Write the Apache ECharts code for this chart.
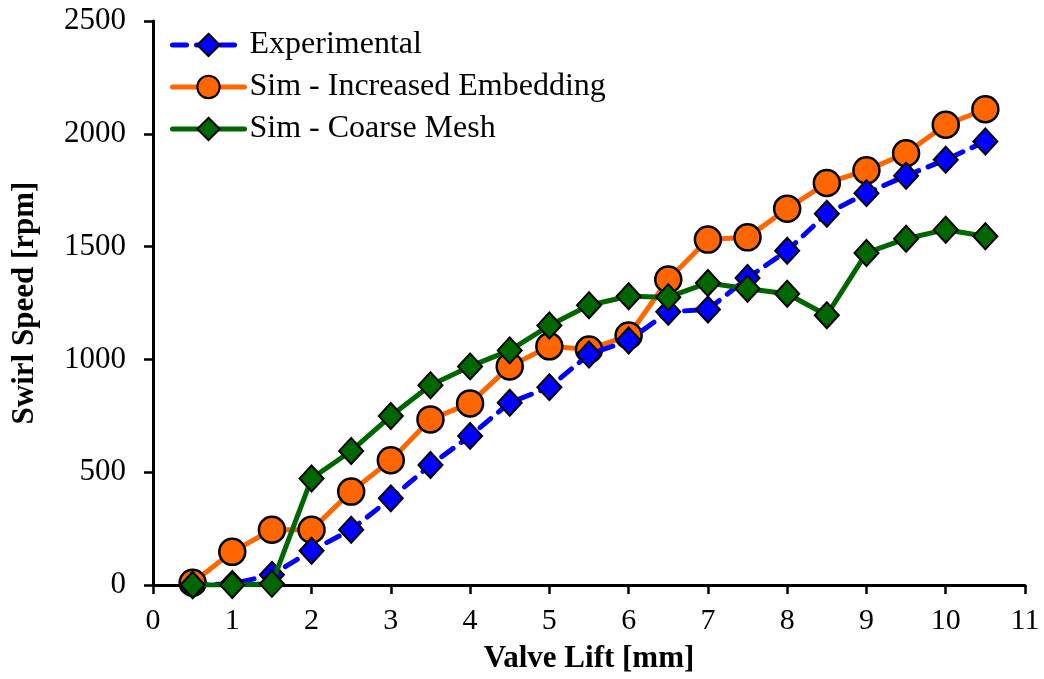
<!DOCTYPE html>
<html><head><meta charset="utf-8">
<script src="https://cdn.jsdelivr.net/npm/echarts@6/dist/echarts.min.js"></script>
<style>html,body{margin:0;padding:0;background:#fff}#c{width:1044px;height:679px}</style>
</head><body><div id="c"></div>
<script>
const valveLift = [0.5,1,1.5,2,2.5,3,3.5,4,4.5,5,5.5,6,6.5,7,7.5,8,8.5,9,9.5,10,10.5];
const experimental = [0,5,45,152,245,384,532,661,808,877,1022,1084,1211,1221,1361,1482,1646,1737,1814,1885,1966];
const simEmbedding = [10,147,245,245,414,553,734,805,969,1058,1044,1106,1354,1531,1541,1668,1782,1838,1914,2040,2109];
const simCoarse = [0,0,5,472,594,749,885,969,1040,1150,1240,1280,1276,1339,1313,1291,1196,1472,1535,1575,1546];
const seriesNames = ['Experimental','Sim - Increased Embedding','Sim - Coarse Mesh'];

const pair = arr => valveLift.map((x,i)=>[x,arr[i]]);
const font = 'Liberation Serif';
const blue = '#0000FF', orange = '#FF6600', green = '#006600';
const dash = [14,10];
const chart = echarts.init(document.getElementById('c'));
chart.setOption({
  animation:false,
  backgroundColor:'#fff',
  grid:{left:153,right:19,top:21,bottom:92},
  legend:{
    left:165, top:24, orient:'vertical', itemGap:10, itemWidth:72, itemHeight:28,
    textStyle:{fontFamily:font,fontSize:32,color:'#000',lineHeight:32},
    data:[
      {name:seriesNames[0],lineStyle:{width:5,type:dash,cap:'round'}},
      {name:seriesNames[1],lineStyle:{width:5,cap:'round'}},
      {name:seriesNames[2],lineStyle:{width:5,cap:'round'}}
    ]
  },
  xAxis:{
    type:'value', min:0, max:11, interval:1,
    name:'Valve Lift [mm]', nameLocation:'middle', nameGap:58,
    nameTextStyle:{fontFamily:font,fontSize:31,fontWeight:'bold',color:'#000'},
    axisLine:{lineStyle:{color:'#000',width:3}},
    axisTick:{show:true,length:9,lineStyle:{color:'#000',width:2.5}},
    axisLabel:{fontFamily:font,fontSize:30,color:'#000',margin:21},
    splitLine:{show:false}
  },
  yAxis:{
    type:'value', min:0, max:2500, interval:500,
    name:'Swirl Speed [rpm]', nameLocation:'middle', nameGap:113,
    nameTextStyle:{fontFamily:font,fontSize:31,fontWeight:'bold',color:'#000'},
    axisLine:{show:true,lineStyle:{color:'#000',width:3}},
    axisTick:{show:true,length:9,lineStyle:{color:'#000',width:2.5}},
    axisLabel:{fontFamily:font,fontSize:31,color:'#000',margin:27,formatter:v=>String(v)},
    splitLine:{show:false}
  },
  series:[
    {name:seriesNames[0],type:'line',data:pair(experimental),z:3,
     symbol:'diamond',symbolSize:[24,26],
     lineStyle:{color:blue,width:5,type:dash,cap:'round'},
     itemStyle:{color:blue,borderColor:'#000',borderWidth:2}},
    {name:seriesNames[1],type:'line',data:pair(simEmbedding),z:2,
     symbol:'circle',symbolSize:26,
     lineStyle:{color:orange,width:5},
     itemStyle:{color:orange,borderColor:'#000',borderWidth:2.5}},
    {name:seriesNames[2],type:'line',data:pair(simCoarse),z:4,
     symbol:'diamond',symbolSize:[24,26],
     lineStyle:{color:green,width:5},
     itemStyle:{color:green,borderColor:'#000',borderWidth:2}}
  ]
});
</script></body></html>
